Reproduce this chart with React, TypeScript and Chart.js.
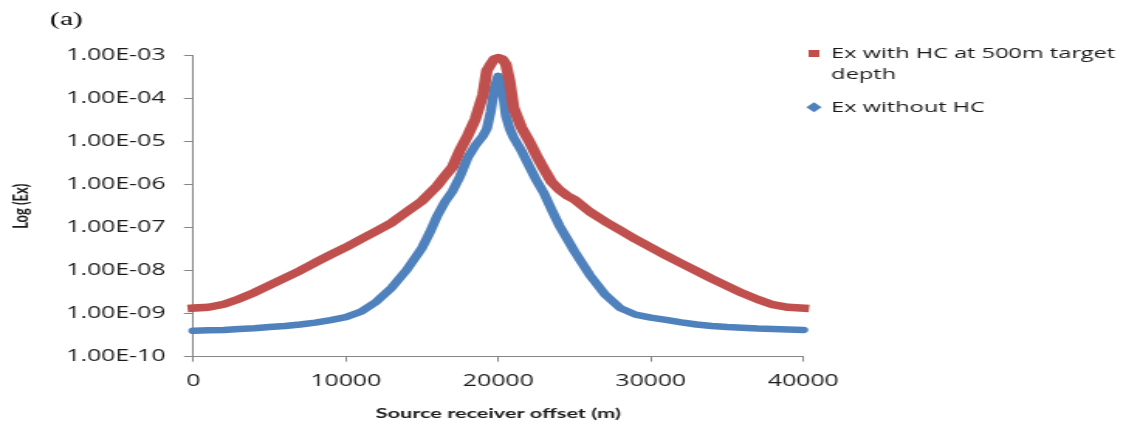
import React, { useEffect, useRef } from 'react';
import { Chart, registerables } from 'chart.js';

Chart.register(...registerables);

// ---------- data ----------
const offsets = [
  0, 1000, 2000, 3000, 4000, 5000, 6000, 7000, 8000, 9000, 10000, 11000, 12000, 13000, 14000, 15000,
  15500, 16000, 16500, 17000, 17500, 18000, 18500, 19000,
  19250, 19500, 19750, 20000, 20250, 20500, 20750, 21000,
  21500, 22000, 22500, 23000, 23500, 24000, 24500, 25000,
  26000, 27000, 28000, 29000, 30000, 31000, 32000, 33000, 34000, 35000, 36000, 37000, 38000, 39000, 40000,
];

const exWithHC = [
  1.35e-9, 1.41e-9, 1.66e-9, 2.2e-9, 3.1e-9, 4.6e-9, 6.8e-9, 1.0e-8, 1.55e-8, 2.35e-8, 3.5e-8, 5.4e-8, 8.3e-8, 1.3e-7, 2.35e-7, 4.2e-7,
  6.3e-7, 9.5e-7, 1.6e-6, 2.6e-6, 6.5e-6, 1.4e-5, 3.4e-5, 1.26e-4,
  4.5e-4, 6.3e-4, 8.5e-4, 9.1e-4, 8.5e-4, 6.3e-4, 2.5e-4, 6.3e-5,
  2.2e-5, 1.07e-5, 4.8e-6, 2.3e-6, 1.15e-6, 7.6e-7, 5.6e-7, 4.5e-7,
  2.35e-7, 1.4e-7, 8.7e-8, 5.4e-8, 3.5e-8, 2.25e-8, 1.48e-8, 9.8e-9, 6.5e-9, 4.4e-9, 3.0e-9, 2.15e-9, 1.62e-9, 1.41e-9, 1.35e-9,
];

const exWithoutHC = [
  4.0e-10, 4.1e-10, 4.2e-10, 4.4e-10, 4.6e-10, 4.9e-10, 5.2e-10, 5.6e-10, 6.2e-10, 7.1e-10, 8.3e-10, 1.12e-9, 1.9e-9, 4.0e-9, 1.05e-8, 3.4e-8,
  7.6e-8, 1.9e-7, 4.0e-7, 7.1e-7, 1.6e-6, 4.3e-6, 8.3e-6, 1.38e-5,
  2.0e-5, 5.0e-5, 1.8e-4, 3.4e-4, 1.8e-4, 4.0e-5, 2.0e-5, 1.26e-5,
  6.3e-6, 2.8e-6, 1.26e-6, 6.3e-7, 2.6e-7, 1.12e-7, 5.6e-8, 2.8e-8,
  7.9e-9, 2.8e-9, 1.35e-9, 9.5e-10, 8.1e-10, 7.2e-10, 6.3e-10, 5.6e-10, 5.2e-10, 4.9e-10, 4.7e-10, 4.5e-10, 4.4e-10, 4.3e-10, 4.2e-10,
];

const seriesNames = ['Ex with HC at 500m target depth', 'Ex without HC'];
const legendLines: (string | string[])[] = [['Ex with HC at 500m target', 'depth'], 'Ex without HC'];

const xTickValues = [0, 10000, 20000, 30000, 40000];
const xTickLabels = ['0', '10000', '20000', '30000', '40000'];
const yTickValues = [1e-10, 1e-9, 1e-8, 1e-7, 1e-6, 1e-5, 1e-4, 1e-3];
const yTickLabels = ['1.00E-10', '1.00E-09', '1.00E-08', '1.00E-07', '1.00E-06', '1.00E-05', '1.00E-04', '1.00E-03'];

const panelLabel = '(a)';
const xTitle = 'Source receiver offset (m)';
const yTitle = 'Log (Ex)';

// ---------- styling / geometry ----------
const CSS_W = 1140;
const CSS_H = 427;
const DRAW_W = 736; // drawn narrower, stretched horizontally like the original picture
const RED = '#C0504D';
const BLUE = '#4F81BD';
const AXIS = '#868686';
const TEXT = '#1a1a1a';
const TITLE_FONT = 'Lato';

const Y_AXIS_W = 124.8;
const X_AXIS_H = 70.3;
const LEGEND_W = 217.4;
const LEGEND_LEFT = 510;
const LEGEND_TOP = 34;
const TITLE_LEFT = 32.3;

const boxPlacement = {
  id: 'boxPlacement',
  afterLayout(chart: any) {
    const t = chart.titleBlock;
    if (t) {
      const w = t.right - t.left;
      t.left = TITLE_LEFT;
      t.right = TITLE_LEFT + w;
    }
    const l = chart.legend;
    if (l) {
      const w = l.right - l.left;
      const h = l.bottom - l.top;
      l.left = LEGEND_LEFT;
      l.right = LEGEND_LEFT + w;
      l.top = LEGEND_TOP;
      l.bottom = LEGEND_TOP + h;
    }
  },
};

export default function App() {
  const canvasRef = useRef<HTMLCanvasElement | null>(null);

  useEffect(() => {
    document.body.style.margin = '0';
    const canvas = canvasRef.current;
    if (!canvas) return;
    const colors = [RED, BLUE];

    const chart = new Chart(canvas, {
      type: 'line',
      data: {
        datasets: [
          {
            label: seriesNames[0],
            data: offsets.map((x, i) => ({ x, y: exWithHC[i] })),
            borderColor: RED,
            backgroundColor: RED,
            borderWidth: 7.5,
            borderCapStyle: 'square',
            borderJoinStyle: 'round',
            pointRadius: 0,
            pointStyle: 'rect',
            tension: 0,
            clip: false as any,
          },
          {
            label: seriesNames[1],
            data: offsets.map((x, i) => ({ x, y: exWithoutHC[i] })),
            borderColor: BLUE,
            backgroundColor: BLUE,
            borderWidth: 6.5,
            borderCapStyle: 'round',
            borderJoinStyle: 'round',
            pointRadius: 0,
            pointStyle: 'rectRot',
            tension: 0,
            clip: false as any,
          },
        ],
      },
      options: {
        animation: false,
        responsive: false,
        devicePixelRatio: 1,
        layout: { padding: { left: 0, right: 0, top: 0, bottom: 0 } },
        plugins: {
          tooltip: { enabled: false },
          title: {
            display: true,
            text: panelLabel,
            align: 'start',
            color: '#000',
            font: { family: 'Liberation Serif', size: 19, weight: 'normal', lineHeight: 1.2 },
            padding: { top: 9, bottom: 23.9 },
          },
          legend: {
            display: true,
            position: 'right',
            align: 'start',
            maxWidth: LEGEND_W,
            labels: {
              usePointStyle: true,
              boxWidth: 7,
              boxHeight: 7,
              padding: 12,
              color: TEXT,
              font: { family: 'Open Sans', size: 15.2, lineHeight: 1.37 },
              generateLabels: (c: any) =>
                Chart.defaults.plugins.legend.labels.generateLabels(c).map((item: any, i: number) => ({
                  ...item,
                  text: legendLines[i],
                  fillStyle: colors[i],
                  strokeStyle: colors[i],
                  lineWidth: 0,
                })),
            },
          },
        },
        scales: {
          x: {
            type: 'linear',
            min: 0,
            max: 40000,
            afterBuildTicks: (scale: any) => {
              scale.ticks = xTickValues.map((v) => ({ value: v }));
            },
            afterFit: (scale: any) => {
              scale.height = X_AXIS_H;
            },
            ticks: {
              autoSkip: false,
              maxRotation: 0,
              padding: 10.5,
              color: TEXT,
              font: { family: 'Open Sans', size: 16 },
              callback: (_v: any, i: number) => xTickLabels[i],
            },
            grid: { drawOnChartArea: false, drawTicks: true, tickLength: 5, color: AXIS },
            border: { display: true, color: AXIS, width: 1 },
            title: {
              display: true,
              text: xTitle,
              color: TEXT,
              font: { family: TITLE_FONT, size: 14, weight: 'bold' },
              padding: { top: 0, bottom: 5 },
            },
          },
          y: {
            type: 'logarithmic',
            min: 1e-10,
            max: 1e-3,
            afterBuildTicks: (scale: any) => {
              scale.ticks = yTickValues.map((v) => ({ value: v }));
            },
            afterFit: (scale: any) => {
              scale.width = Y_AXIS_W;
            },
            ticks: {
              autoSkip: false,
              padding: 12,
              color: TEXT,
              font: { family: 'Open Sans', size: 16 },
              callback: (_v: any, i: number) => yTickLabels[i],
            },
            grid: { drawOnChartArea: false, drawTicks: true, tickLength: 6, color: AXIS },
            border: { display: true, color: AXIS, width: 1 },
            title: {
              display: true,
              text: yTitle,
              color: TEXT,
              font: { family: TITLE_FONT, size: 13, weight: 'bold' },
              padding: { top: 6.4, bottom: 0 },
            },
          },
        },
      } as any,
      plugins: [boxPlacement],
    });

    return () => {
      chart.destroy();
    };
  }, []);

  return (
    <div style={{ width: CSS_W, height: CSS_H, background: '#fff' }}>
      <canvas
        ref={canvasRef}
        width={DRAW_W}
        height={CSS_H}
        style={{ width: `${CSS_W}px`, height: `${CSS_H}px`, display: 'block' }}
      />
    </div>
  );
}
